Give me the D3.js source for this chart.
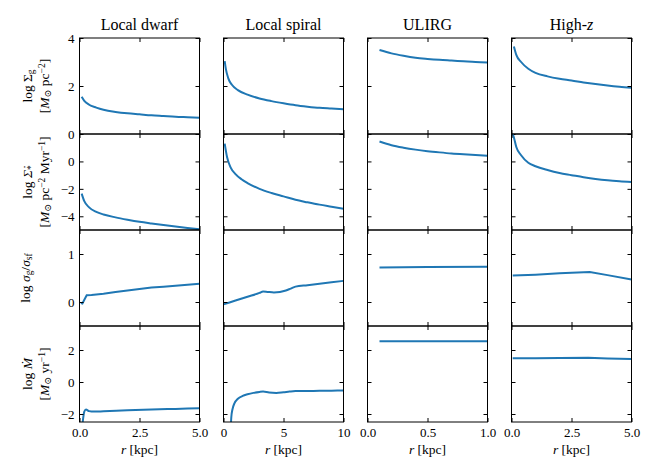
<!DOCTYPE html>
<html>
<head>
<meta charset="utf-8">
<script src="https://cdn.jsdelivr.net/npm/d3@7"></script>
</head>
<body style="margin:0; background:#fff">
<svg id="chart"></svg>
<script>
// column titles, axis ranges and ticks
const titles = ["Local dwarf", "Local spiral", "ULIRG", "High-z"];
const xDomains = [[0, 5], [0, 10], [0, 1], [0, 5]];
const xTicks = [[0, 2.5, 5], [0, 5, 10], [0, 0.5, 1], [0, 2.5, 5]];
const xTickLabels = [["0.0", "2.5", "5.0"], ["0", "5", "10"], ["0.0", "0.5", "1.0"], ["0.0", "2.5", "5.0"]];
const yDomains = [[0, 4], [-5, 2], [-0.5, 1.5], [-2.5, 3.5]];
const yTicks = [[0, 2, 4], [-4, -2, 0], [0, 1], [-2, 0, 2]];

// [r (kpc), value]
// row 1: log Sigma_g
const dwarfGas = [[0.09,1.55],[0.2,1.38],[0.4,1.22],[0.7,1.1],[1.0,1.01],[1.5,0.92],[2.0,0.86],[2.5,0.82],[3.0,0.78],[3.5,0.75],[4.0,0.72],[4.5,0.7],[5.0,0.68]];
const spiralGas = [[0.1,3.04],[0.2,2.7],[0.4,2.32],[0.7,2.05],[1.2,1.83],[2.0,1.64],[3.0,1.48],[4.0,1.37],[5.0,1.28],[6.0,1.2],[7.0,1.14],[8.0,1.09],[9.0,1.06],[10,1.03]];
const ulirgGas = [[0.1,3.5],[0.2,3.36],[0.3,3.26],[0.4,3.18],[0.5,3.13],[0.6,3.09],[0.7,3.06],[0.8,3.03],[0.9,3.0],[1.0,2.98]];
const highzGas = [[0.1,3.65],[0.2,3.3],[0.4,3.0],[0.7,2.72],[1.0,2.55],[1.5,2.4],[2.0,2.3],[2.5,2.23],[3.0,2.15],[3.5,2.08],[4.0,2.02],[4.5,1.97],[5.0,1.93]];

// row 2: log Sigma_dot_*
const dwarfSfr = [[0.09,-2.35],[0.2,-2.9],[0.4,-3.35],[0.7,-3.68],[1.0,-3.87],[1.5,-4.08],[2.0,-4.25],[2.5,-4.4],[3.0,-4.52],[3.5,-4.63],[4.0,-4.74],[4.5,-4.85],[5.0,-4.95]];
const spiralSfr = [[0.1,1.3],[0.3,0.3],[0.6,-0.45],[1.0,-0.92],[1.5,-1.3],[2.0,-1.58],[3.0,-2.0],[4.0,-2.3],[5.0,-2.55],[6.0,-2.8],[7.0,-2.98],[8.0,-3.15],[9.0,-3.3],[10,-3.45]];
const ulirgSfr = [[0.1,1.45],[0.2,1.18],[0.3,1.0],[0.4,0.86],[0.5,0.75],[0.6,0.66],[0.7,0.58],[0.8,0.52],[0.9,0.47],[1.0,0.42]];
const highzSfr = [[0.05,2.0],[0.1,1.75],[0.2,1.05],[0.4,0.45],[0.7,-0.1],[1.0,-0.35],[1.5,-0.63],[2.0,-0.85],[2.5,-1.0],[3.0,-1.15],[3.5,-1.28],[4.0,-1.38],[4.5,-1.45],[5.0,-1.5]];

// row 3: log sigma_g / sigma_sf
const dwarfDisp = [[0.06,-0.02],[0.12,-0.03],[0.3,0.14],[0.5,0.145],[1.0,0.17],[1.5,0.21],[2.0,0.24],[2.5,0.27],[3.0,0.3],[3.5,0.32],[4.0,0.34],[4.5,0.36],[5.0,0.38]];
const spiralDisp = [[0.0,-0.05],[1.0,0.03],[2.0,0.11],[3.0,0.19],[3.3,0.22],[3.7,0.21],[4.2,0.2],[4.7,0.21],[5.2,0.24],[5.6,0.28],[6.0,0.32],[7.0,0.35],[8.0,0.38],[9.0,0.41],[10,0.44]];
const ulirgDisp = [[0.1,0.72],[0.5,0.73],[1.0,0.735]];
const highzDisp = [[0.05,0.55],[1.0,0.57],[2.0,0.6],[3.26,0.625],[4.0,0.56],[5.0,0.47]];

// row 4: log M_dot
const dwarfMdot = [[0.1,-3.0],[0.15,-2.3],[0.2,-1.85],[0.27,-1.72],[0.4,-1.82],[0.6,-1.85],[1.0,-1.83],[2.0,-1.77],[3.0,-1.72],[4.0,-1.68],[5.0,-1.64]];
const spiralMdot = [[0.6,-3.0],[0.65,-2.2],[0.75,-1.7],[0.9,-1.35],[1.2,-1.05],[1.6,-0.87],[2.0,-0.77],[2.5,-0.68],[3.0,-0.62],[3.3,-0.6],[3.8,-0.66],[4.4,-0.68],[5.0,-0.64],[5.5,-0.6],[6.0,-0.57],[7.0,-0.56],[8.0,-0.55],[9.0,-0.54],[10,-0.53]];
const ulirgMdot = [[0.1,2.55],[0.5,2.55],[1.0,2.55]];
const highzMdot = [[0.05,1.48],[1.0,1.49],[2.0,1.5],[3.2,1.51],[4.0,1.47],[5.0,1.43]];

const panels = [
  [dwarfGas, spiralGas, ulirgGas, highzGas],
  [dwarfSfr, spiralSfr, ulirgSfr, highzSfr],
  [dwarfDisp, spiralDisp, ulirgDisp, highzDisp],
  [dwarfMdot, spiralMdot, ulirgMdot, highzMdot]
];
// profiles with sharp corners are drawn straight between points
const straight = [dwarfDisp, highzDisp, ulirgDisp, ulirgMdot, highzMdot];

// y labels as rich text: [text, style] with style '', 'i', 'sub', 'sup'
const rowLabels = [
  [[["log Σ",""],["g","sub"]], [["[",""],["M","i"],["⊙","sub"],[" pc",""],["−2","sup"],["]",""]]],
  [[["log ",""],["Σ̇","i"],["*","sub"]], [["[",""],["M","i"],["⊙","sub"],[" pc",""],["−2","sup"],[" Myr",""],["−1","sup"],["]",""]]],
  [[["log ",""],["σ","i"],["g","sub"],["/",""],["σ","i"],["sf","sub"]]],
  [[["log ",""],["Ṁ","i"]], [["[",""],["M","i"],["⊙","sub"],[" yr",""],["−1","sup"],["]",""]]]
];

const width = 664, height = 475;
const marginLeft = 79.5, marginTop = 38;
const pw = 120, ph = 96;
const colStep = 144, rowStep = 96;
const tickLen = 4;
const serif = '"Liberation Serif", "DejaVu Serif", serif';

const svg = d3.select('#chart')
  .attr('width', width)
  .attr('height', height)
  .style('font-family', serif);

function richText(sel, parts, size) {
  parts.forEach(([t, style]) => {
    const ts = sel.append('tspan').text(t);
    if (style === 'i') ts.style('font-style', 'italic');
    if (style === 'sub') ts.style('font-size', `${size * 0.7}px`).attr('baseline-shift', '-25%');
    if (style === 'sup') ts.style('font-size', `${size * 0.7}px`).attr('baseline-shift', '45%');
  });
}

panels.forEach((row, r) => {
  row.forEach((data, c) => {
    const x0 = marginLeft + c * colStep;
    const y0 = marginTop + r * rowStep;
    const g = svg.append('g').attr('transform', `translate(${x0},${y0})`);

    const x = d3.scaleLinear().domain(xDomains[c]).range([0, pw]);
    const y = d3.scaleLinear().domain(yDomains[r]).range([ph, 0]);

    const clipId = `clip-${r}-${c}`;
    g.append('clipPath').attr('id', clipId)
      .append('rect').attr('width', pw).attr('height', ph);

    const line = d3.line()
      .x(d => x(d[0]))
      .y(d => y(d[1]))
      .curve(straight.includes(data) ? d3.curveLinear : d3.curveMonotoneX);

    g.append('path')
      .datum(data)
      .attr('clip-path', `url(#${clipId})`)
      .attr('fill', 'none')
      .attr('stroke', '#1f77b4')
      .attr('stroke-width', 2)
      .attr('d', line);

    // ticks pointing inward on all sides
    const lab = (on, fmt) => on ? fmt : () => '';
    const axL = g.append('g')
      .call(d3.axisLeft(y).tickValues(yTicks[r]).tickSize(-tickLen).tickPadding(5)
        .tickFormat(lab(c === 0, d3.format('d'))));
    const axR = g.append('g').attr('transform', `translate(${pw},0)`)
      .call(d3.axisRight(y).tickValues(yTicks[r]).tickSize(-tickLen).tickFormat(() => ''));
    const axT = g.append('g')
      .call(d3.axisTop(x).tickValues(xTicks[c]).tickSize(-tickLen).tickFormat(() => ''));
    const axB = g.append('g').attr('transform', `translate(0,${ph})`)
      .call(d3.axisBottom(x).tickValues(xTicks[c]).tickSize(-tickLen).tickPadding(6)
        .tickFormat(lab(r === 3, (d, i) => xTickLabels[c][i])));

    [axL, axR, axT, axB].forEach(a => {
      a.attr('font-family', null).attr('font-size', null);
      a.select('.domain').remove();
      a.selectAll('line').attr('stroke', '#000').attr('stroke-width', 1);
      a.selectAll('text')
        .style('font-family', serif)
        .style('font-size', '13px')
        .attr('fill', '#000');
    });

    g.append('rect')
      .attr('width', pw).attr('height', ph)
      .attr('fill', 'none')
      .attr('stroke', '#000')
      .attr('stroke-width', 1);
  });
});

// column titles
titles.forEach((t, c) => {
  const txt = svg.append('text')
    .attr('x', marginLeft + c * colStep + pw / 2)
    .attr('y', 30)
    .attr('text-anchor', 'middle')
    .style('font-family', serif)
    .style('font-size', '16px');
  if (t === 'High-z') {
    txt.append('tspan').text('High-');
    txt.append('tspan').style('font-style', 'italic').text('z');
  } else {
    txt.text(t);
  }
});

// x labels
titles.forEach((t, c) => {
  const txt = svg.append('text')
    .attr('x', marginLeft + c * colStep + pw / 2)
    .attr('y', 454)
    .attr('text-anchor', 'middle')
    .style('font-family', serif)
    .style('font-size', '13.5px');
  txt.append('tspan').style('font-style', 'italic').text('r');
  txt.append('tspan').text(' [kpc]');
});

// y labels
rowLabels.forEach((lines, r) => {
  const cy = marginTop + r * rowStep + ph / 2;
  const xs = lines.length === 2 ? [32, 49] : [30];
  lines.forEach((parts, i) => {
    const txt = svg.append('text')
      .attr('transform', `translate(${xs[i]},${cy}) rotate(-90)`)
      .attr('text-anchor', 'middle')
      .style('font-family', serif)
      .style('font-size', '13.5px');
    richText(txt, parts, 13.5);
  });
});
</script>
</body>
</html>
